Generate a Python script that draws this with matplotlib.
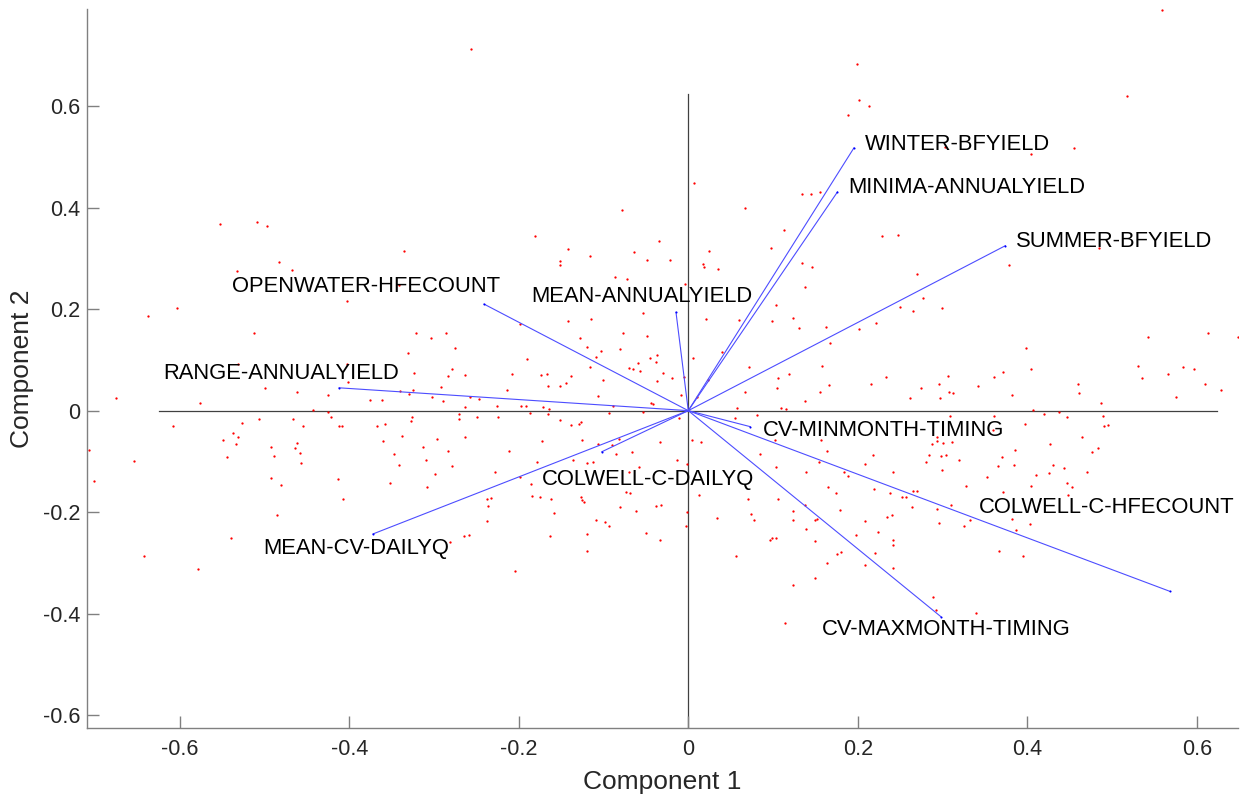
import numpy as np
import matplotlib
matplotlib.use("Agg")
import matplotlib.pyplot as plt

plt.rcParams['font.family'] = ['Liberation Sans', 'DejaVu Sans']
plt.rcParams['axes.unicode_minus'] = False

# PCA loadings (component 1, component 2) for each flow metric
var_names = ['WINTER-BFYIELD', 'MINIMA-ANNUALYIELD', 'SUMMER-BFYIELD',
             'OPENWATER-HFECOUNT', 'MEAN-ANNUALYIELD', 'RANGE-ANNUALYIELD',
             'CV-MINMONTH-TIMING', 'COLWELL-C-DAILYQ', 'MEAN-CV-DAILYQ',
             'COLWELL-C-HFECOUNT', 'CV-MAXMONTH-TIMING']
coef_1 = [0.1955, 0.176, 0.374, -0.241, -0.0145, -0.412,
          0.073, -0.102, -0.372, 0.568, 0.298]
coef_2 = [0.518, 0.431, 0.325, 0.210, 0.194, 0.045,
          -0.0315, -0.081, -0.243, -0.356, -0.406]

# site scores
scores = [
    (-0.553, 0.367), (-0.509, 0.371), (-0.497, 0.364), (-0.335, 0.314), (-0.532, 0.276),
    (-0.483, 0.292), (-0.468, 0.277),
    (-0.256, 0.713), (0.007, 0.448), (-0.078, 0.396), (0.067, 0.399), (-0.181, 0.345),
    (-0.034, 0.334), (-0.142, 0.319), (-0.064, 0.312), (-0.116, 0.304), (-0.049, 0.297),
    (-0.022, 0.296), (-0.151, 0.295), (-0.151, 0.288), (-0.086, 0.264), (-0.072, 0.260),
    (0.134, 0.427), (0.145, 0.426), (0.155, 0.430), (0.113, 0.357), (0.098, 0.321),
    (0.024, 0.315), (0.017, 0.289), (0.019, 0.284), (0.035, 0.279), (0.134, 0.290),
    (0.146, 0.284),
    (0.559, 0.790), (0.199, 0.683), (0.201, 0.612), (0.213, 0.600), (0.188, 0.582),
    (0.518, 0.620), (0.303, 0.520), (0.404, 0.506), (0.455, 0.518), (0.229, 0.344),
    (0.248, 0.347), (0.485, 0.320), (0.378, 0.287), (0.270, 0.269),
    (-0.403, 0.216), (-0.341, 0.248), (-0.603, 0.202), (-0.638, 0.186), (-0.512, 0.153),
    (-0.321, 0.154), (-0.331, 0.114), (-0.324, 0.074), (-0.531, 0.091), (-0.403, 0.091),
    (-0.402, 0.057), (-0.499, 0.045), (-0.462, 0.036), (-0.425, 0.030), (-0.340, 0.039),
    (-0.329, 0.032), (-0.325, 0.041), (-0.376, 0.021), (-0.361, 0.021), (-0.675, 0.024),
    (-0.576, 0.016), (-0.443, 0.001), (-0.425, -0.002), (-0.422, -0.013), (-0.608, -0.030),
    (-0.526, -0.024), (-0.507, -0.017), (-0.466, -0.016), (-0.454, -0.030), (-0.412, -0.030),
    (-0.408, -0.031), (-0.367, -0.030), (-0.358, -0.027), (-0.326, -0.012), (-0.327, -0.020),
    (-0.338, -0.050), (-0.360, -0.060), (-0.549, -0.058), (-0.537, -0.045), (-0.531, -0.052),
    (-0.534, -0.066), (-0.492, -0.072), (-0.462, -0.064), (-0.464, -0.074), (-0.458, -0.084),
    (-0.489, -0.090), (-0.544, -0.091), (-0.457, -0.104), (-0.347, -0.085), (-0.341, -0.107),
    (-0.654, -0.100), (-0.707, -0.078), (-0.701, -0.138), (-0.492, -0.133), (-0.480, -0.147),
    (-0.413, -0.134), (-0.352, -0.143), (-0.407, -0.174), (-0.485, -0.206), (-0.540, -0.251),
    (-0.004, 0.250), (0.138, 0.244), (0.104, 0.209), (0.021, 0.181), (0.099, 0.176),
    (0.124, 0.183), (0.131, 0.162), (0.162, 0.165), (0.060, 0.179), (-0.054, 0.192),
    (-0.115, 0.180), (-0.142, 0.177), (-0.303, 0.143), (-0.286, 0.153), (-0.275, 0.124),
    (-0.199, 0.170), (-0.128, 0.143), (-0.077, 0.153), (-0.049, 0.147), (-0.120, 0.125),
    (-0.103, 0.117), (-0.081, 0.121), (-0.109, 0.106), (-0.037, 0.110), (-0.045, 0.103),
    (-0.038, 0.095), (-0.190, 0.102), (-0.279, 0.082), (-0.283, 0.068), (-0.264, 0.070),
    (-0.208, 0.072), (-0.174, 0.070), (-0.167, 0.072), (-0.165, 0.049), (-0.138, 0.068),
    (-0.116, 0.086), (-0.070, 0.084), (-0.065, 0.082), (-0.057, 0.078), (-0.059, 0.093),
    (-0.030, 0.074), (-0.019, 0.064), (-0.005, 0.067), (-0.101, 0.061), (-0.037, 0.059),
    (-0.151, 0.049), (-0.144, 0.054), (-0.214, 0.040), (-0.292, 0.046), (-0.302, 0.026),
    (-0.289, 0.019), (-0.257, 0.026), (-0.247, 0.023), (-0.264, 0.008), (-0.226, 0.010),
    (-0.197, 0.010), (-0.191, 0.009), (-0.171, 0.008), (-0.164, 0.003), (-0.106, 0.029),
    (-0.089, 0.009), (-0.044, 0.016), (-0.042, 0.013), (-0.009, 0.031), (0.010, 0.026),
    (0.023, 0.060), (0.005, 0.104), (0.040, 0.115), (0.072, 0.086), (0.106, 0.064),
    (0.119, 0.072), (0.105, 0.045), (0.158, 0.088), (0.166, 0.050), (0.067, 0.037),
    (0.155, 0.037), (0.138, 0.019), (0.057, 0.006), (0.109, 0.006), (0.115, 0.004),
    (0.055, -0.015), (0.081, -0.009), (-0.270, -0.007), (-0.271, -0.016), (-0.249, -0.012),
    (-0.224, -0.012), (-0.187, -0.004), (-0.165, -0.007), (-0.151, -0.018), (-0.138, -0.028),
    (-0.129, -0.026), (-0.127, -0.022), (-0.094, -0.005), (-0.053, -0.003), (-0.011, -0.015),
    (-0.313, -0.071), (-0.297, -0.056), (-0.284, -0.080), (-0.309, -0.097), (-0.299, -0.125),
    (-0.279, -0.110), (-0.308, -0.150), (-0.264, -0.052), (-0.212, -0.079), (-0.228, -0.121),
    (-0.172, -0.060), (-0.178, -0.102), (-0.198, -0.130), (-0.125, -0.058), (-0.136, -0.097),
    (-0.119, -0.103), (-0.112, -0.101), (-0.107, -0.065), (-0.090, -0.068), (-0.082, -0.056),
    (-0.085, -0.085), (-0.066, -0.082), (-0.033, -0.062), (0.004, -0.057), (-0.002, -0.106),
    (-0.013, -0.097), (-0.058, -0.111), (-0.070, -0.120), (-0.186, -0.144), (-0.184, -0.169),
    (-0.175, -0.171), (-0.162, -0.174), (-0.127, -0.171), (-0.125, -0.176), (-0.123, -0.181),
    (-0.074, -0.160), (-0.069, -0.162), (-0.081, -0.190), (-0.062, -0.197), (-0.038, -0.187),
    (-0.032, -0.186), (0.013, -0.166), (-0.002, -0.200), (-0.003, -0.227), (-0.238, -0.174),
    (-0.233, -0.172), (-0.236, -0.188), (-0.237, -0.217), (-0.159, -0.201), (-0.109, -0.215),
    (-0.093, -0.227), (-0.265, -0.247), (-0.259, -0.246), (0.034, -0.211), (0.070, -0.175),
    (0.106, -0.174), (0.124, -0.197), (0.138, -0.185), (0.152, -0.213), (0.139, -0.234),
    (0.074, -0.204), (0.077, -0.215), (0.099, -0.250), (0.104, -0.112), (0.139, -0.121),
    (0.085, -0.086), (0.015, -0.061), (0.164, -0.080), (0.165, -0.151), (0.157, -0.058),
    (0.154, -0.101), (0.102, -0.058), (0.174, -0.162),
    (0.277, 0.222), (0.250, 0.205), (0.265, 0.197), (0.299, 0.202), (0.202, 0.160),
    (0.221, 0.173), (0.167, 0.133), (0.399, 0.123), (0.542, 0.145), (0.613, 0.153),
    (0.648, 0.145), (0.404, 0.082), (0.371, 0.077), (0.361, 0.066), (0.306, 0.068),
    (0.233, 0.066), (0.215, 0.053), (0.296, 0.053), (0.275, 0.045), (0.342, 0.049),
    (0.308, 0.036), (0.312, 0.034), (0.262, 0.024), (0.297, 0.025), (0.382, 0.031),
    (0.460, 0.052), (0.461, 0.034), (0.487, 0.016), (0.530, 0.088), (0.535, 0.064),
    (0.566, 0.072), (0.584, 0.086), (0.597, 0.082), (0.610, 0.053), (0.628, 0.041),
    (0.576, 0.026), (0.407, 0.001), (0.420, -0.007), (0.437, -0.003), (0.447, -0.012),
    (0.489, -0.010), (0.490, -0.030), (0.495, -0.028), (0.309, -0.010), (0.361, -0.010),
    (0.397, -0.027), (0.360, -0.038), (0.465, -0.052), (0.427, -0.065), (0.386, -0.077),
    (0.483, -0.074), (0.476, -0.081), (0.287, -0.066), (0.293, -0.060), (0.300, -0.064),
    (0.311, -0.061), (0.294, -0.052), (0.284, -0.088), (0.298, -0.089), (0.304, -0.088),
    (0.281, -0.101), (0.319, -0.098), (0.370, -0.091), (0.218, -0.088), (0.208, -0.105),
    (0.242, -0.121), (0.184, -0.121), (0.188, -0.128), (0.299, -0.117), (0.365, -0.110),
    (0.384, -0.107), (0.410, -0.127), (0.425, -0.123), (0.430, -0.107), (0.443, -0.114),
    (0.470, -0.120), (0.352, -0.131), (0.404, -0.149), (0.447, -0.142), (0.453, -0.151),
    (0.328, -0.148), (0.219, -0.154), (0.238, -0.162), (0.265, -0.158), (0.270, -0.158),
    (0.371, -0.160), (0.448, -0.167), (0.252, -0.171), (0.257, -0.171), (0.264, -0.189),
    (0.179, -0.196), (0.293, -0.194), (0.310, -0.186), (0.209, -0.217), (0.234, -0.209),
    (0.240, -0.205), (0.296, -0.221), (0.325, -0.228), (0.332, -0.216), (0.382, -0.214),
    (0.403, -0.223), (0.387, -0.235), (0.224, -0.239), (0.198, -0.246),
    (-0.642, -0.286), (-0.579, -0.312),
    (-0.098, -0.219), (-0.281, -0.259), (-0.163, -0.247), (-0.120, -0.243), (-0.120, -0.276),
    (-0.050, -0.242), (-0.033, -0.254), (-0.204, -0.316), (0.124, -0.215), (0.149, -0.215),
    (0.096, -0.255), (0.103, -0.251), (0.149, -0.257), (0.056, -0.286), (0.164, -0.301),
    (0.176, -0.283), (0.150, -0.330), (0.123, -0.344), (0.114, -0.419),
    (0.242, -0.255), (0.242, -0.265), (0.180, -0.279), (0.220, -0.281), (0.208, -0.305),
    (0.242, -0.311), (0.367, -0.276), (0.395, -0.286), (0.289, -0.368), (0.292, -0.393),
    (0.340, -0.399),
]
score_1 = [p[0] for p in scores]
score_2 = [p[1] for p in scores]

# where each variable name sits (left edge, vertical centre)
label_pos = [(0.2085, 0.5255), (0.1888, 0.4388), (0.3863, 0.3324),
             (-0.5388, 0.2443), (-0.1848, 0.2246), (-0.6195, 0.0723),
             (0.0885, -0.040), (-0.1723, -0.1352), (-0.5015, -0.2711),
             (0.343, -0.1903), (0.1578, -0.4321)]

fig = plt.figure(figsize=(12.44, 7.99), dpi=100)
ax = fig.add_axes([0.0702, 0.0885, 0.925, 0.9002])

lim = 0.624
ax.plot([-lim, lim], [0, 0], color='#404040', lw=0.9, zorder=1)
ax.plot([0, 0], [-lim, lim], color='#404040', lw=0.9, zorder=1)

ax.plot(score_1, score_2, linestyle='none', marker='.', ms=3.3,
        color='red', mec='none', zorder=2)

for name, c1, c2, (lx, ly) in zip(var_names, coef_1, coef_2, label_pos):
    ax.plot([0, c1], [0, c2], color='#4d4dff', lw=0.8, zorder=3)
    ax.plot([c1], [c2], marker='.', ms=3, color='blue', mec='none', zorder=3)
    ax.text(lx, ly, name, fontsize=15.8, ha='left', va='center', color='black')

ax.set_xlim(-0.709, 0.6486)
ax.set_ylim(-0.626, 0.7915)
ax.set_xticks(np.arange(-0.6, 0.61, 0.2))
ax.set_yticks(np.arange(-0.6, 0.61, 0.2))
ax.set_xticklabels(['-0.6', '-0.4', '-0.2', '0', '0.2', '0.4', '0.6'])
ax.set_yticklabels(['-0.6', '-0.4', '-0.2', '0', '0.2', '0.4', '0.6'])

for side in ['top', 'right']:
    ax.spines[side].set_visible(False)
for side in ['left', 'bottom']:
    ax.spines[side].set_color('#808080')
    ax.spines[side].set_linewidth(1.0)

ax.tick_params(axis='both', direction='in', length=8.5, width=1.0,
               color='#808080', labelcolor='#262626', labelsize=15.6)
ax.tick_params(axis='x', pad=8)
ax.tick_params(axis='y', pad=5)

ax.set_xlabel('Component 1', fontsize=19, color='#262626')
ax.set_ylabel('Component 2', fontsize=19, color='#262626')
ax.xaxis.set_label_coords(0.5, -0.058)
ax.yaxis.set_label_coords(-0.046, 0.5)

fig.savefig('out.png', dpi=100)
